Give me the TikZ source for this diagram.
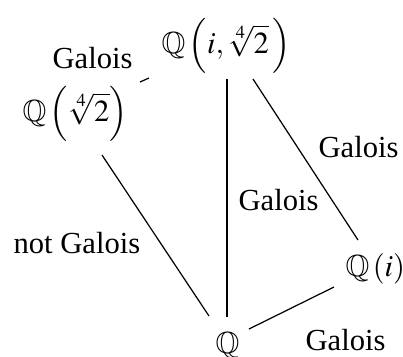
\documentclass[tikz,border=0pt]{standalone}
\usepackage{mathptmx}
\usepackage{amssymb}
\usepackage{fontspec}
\setmainfont{Liberation Serif}
\begin{document}
\begin{tikzpicture}[x=0.3268pt,y=-0.3268pt,
  field/.style={inner sep=0pt,anchor=base west},
  lbl/.style={inner sep=0pt,anchor=base west},
  conn/.style={line width=0.4pt}]
\useasboundingbox (0,0) rectangle (403,356);
\node[field] (top) at (161,53) {$\mathbb{Q}\left(i,\sqrt[4]{2}\,\right)$};
\node[field] (left) at (22,121) {$\mathbb{Q}\left(\sqrt[4]{2}\right)$};
\node[field] (qi) at (345,276) {$\mathbb{Q}\left(i\right)$};
\node[field] (q) at (215,353) {$\mathbb{Q}$};
\node[lbl] (l1) at (52,68) {Galois};
\node[lbl] (l2) at (318,157) {Galois};
\node[lbl] (l3) at (238,210) {Galois};
\node[lbl] (l4) at (13,253) {not Galois};
\node[lbl] (l5) at (305,350) {Galois};
\draw[conn] ([shift={(118,-39)}]left.base west) -- ([shift={(-12,25)}]top.base west);
\draw[conn] ([shift={(66,26)}]top.base west) -- ([shift={(12,-36)}]q.base west);
\draw[conn] ([shift={(92,26)}]top.base west) -- ([shift={(13,-36)}]qi.base west);
\draw[conn] ([shift={(80,34)}]left.base west) -- ([shift={(-6,-37)}]q.base west);
\draw[conn] ([shift={(34,-24)}]q.base west) -- ([shift={(-11,11)}]qi.base west);
\end{tikzpicture}
\end{document}
